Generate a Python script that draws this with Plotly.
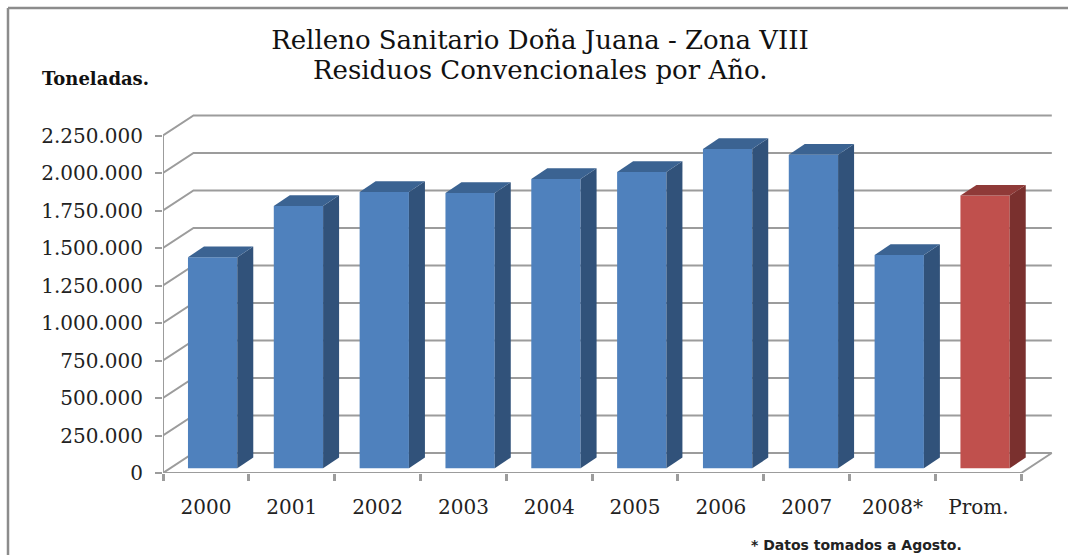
import plotly.graph_objects as go

categories = ["2000", "2001", "2002", "2003", "2004", "2005", "2006", "2007", "2008*", "Prom."]
values = [1407000, 1749000, 1842000, 1835000, 1929000, 1975000, 2129000, 2090000, 1422000, 1818000]
y_ticks = [0, 250000, 500000, 750000, 1000000, 1250000, 1500000, 1750000, 2000000, 2250000]
bar_colors = ["#4F81BD"] * 9 + ["#C0504D"]
side_colors = ["#31527A"] * 9 + ["#7A302E"]
top_colors = ["#3B6392"] * 9 + ["#8F3A38"]

W, H = 1068, 555
PX_L, PX_R, PX_T, PX_B = 163, 1053, 112, 473
PX_PER_CAT = 85.83
PX_PER_VAL = 37.5 / 250000
X_RANGE = [-0.5, -0.5 + (PX_R - PX_L) / PX_PER_CAT]
Y_RANGE = [0, (PX_B - PX_T) / PX_PER_VAL]
dx_px = lambda p: p / PX_PER_CAT
dy_px = lambda p: p / PX_PER_VAL

WALL_DX, WALL_DY = dx_px(30.5), dy_px(20)
BAR_W = dx_px(49.3)
BAR_X = dx_px(6.7)
BAR_Y = dy_px(4.7)
D_X, D_Y = dx_px(16), dy_px(10.7)
GRID = "#9C9C9C"
xs = list(range(len(categories)))
left_edge = -0.5
right_edge = len(categories) - 0.5

fig = go.Figure()

def line(x, y):
    fig.add_trace(go.Scatter(x=x, y=y, mode="lines", line=dict(color=GRID, width=2),
                             hoverinfo="skip", showlegend=False))

# walls of the 3D box, on the main subplot
for v in y_ticks:
    line([left_edge, left_edge + WALL_DX, right_edge + WALL_DX],
         [v, v + WALL_DY, v + WALL_DY])
line([left_edge, left_edge], [0, y_ticks[-1]])
line([left_edge, right_edge, right_edge + WALL_DX], [0, 0, WALL_DY])

# front faces
fig.add_trace(go.Bar(x=[i + BAR_X for i in xs], y=values, base=BAR_Y, width=BAR_W,
                     marker=dict(color=bar_colors, line=dict(width=0)),
                     xaxis="x2", yaxis="y2", showlegend=False))

# side and top faces
for i, v in zip(xs, values):
    xl = i + BAR_X - BAR_W / 2
    xr = i + BAR_X + BAR_W / 2
    yb = BAR_Y
    yt = BAR_Y + v
    fig.add_trace(go.Scatter(x=[xr, xr + D_X, xr + D_X, xr, xr],
                             y=[yb, yb + D_Y, yt + D_Y, yt, yb],
                             mode="lines", fill="toself", fillcolor=side_colors[i],
                             line=dict(width=0), xaxis="x2", yaxis="y2",
                             hoverinfo="skip", showlegend=False))
    fig.add_trace(go.Scatter(x=[xl, xr, xr + D_X, xl + D_X, xl],
                             y=[yt, yt, yt + D_Y, yt + D_Y, yt],
                             mode="lines", fill="toself", fillcolor=top_colors[i],
                             line=dict(width=0), xaxis="x2", yaxis="y2",
                             hoverinfo="skip", showlegend=False))

TICK_FONT = dict(family="DejaVu Serif", size=20, color="#222222")
TITLE_FONT = dict(family="DejaVu Serif", size=26, color="#111111")
fig.update_layout(
    width=W, height=H,
    autosize=False,
    margin=dict(l=0, r=0, t=0, b=0, autoexpand=False),
    paper_bgcolor="white", plot_bgcolor="white",
    separators=",.",
    showlegend=False,
    title=dict(text="Relleno Sanitario Doña Juana - Zona VIII",
               x=540 / W, xanchor="center", y=1 - 40 / H, yanchor="middle",
               font=TITLE_FONT),
    xaxis=dict(domain=[PX_L / W, PX_R / W], range=X_RANGE, tickmode="array",
               tickvals=xs, ticktext=categories, ticks="", showgrid=False, zeroline=False,
               tickfont=TICK_FONT, anchor="y", ticklabelstandoff=20,
               minor=dict(tickmode="array", tickvals=[x - 0.5 for x in xs] + [right_edge],
                          ticks="outside", ticklen=7, tickwidth=2.5, tickcolor=GRID, showgrid=False)),
    yaxis=dict(domain=[1 - PX_B / H, 1 - PX_T / H], range=Y_RANGE, tickmode="array",
               tickvals=y_ticks, tickformat=",d", ticks="outside", ticklen=7, tickwidth=2,
               tickcolor=GRID, showgrid=False, zeroline=False, tickfont=TICK_FONT, anchor="x",
               ticklabelstandoff=8),
    xaxis2=dict(domain=[PX_L / W, PX_R / W], range=X_RANGE, overlaying="x", visible=False, anchor="y2"),
    yaxis2=dict(domain=[1 - PX_B / H, 1 - PX_T / H], range=Y_RANGE, overlaying="y", visible=False, anchor="x2"),
    annotations=[
        dict(text="Residuos Convencionales por Año.", xref="paper", yref="paper", x=540 / W, y=1 - 70 / H,
             xanchor="center", yanchor="middle", showarrow=False, font=TITLE_FONT),
        dict(text="<b>Toneladas.</b>", xref="paper", yref="paper", x=40 / W, y=1 - 78 / H,
             xanchor="left", yanchor="middle", showarrow=False,
             font=dict(family="DejaVu Serif", size=18, color="#111111")),
        dict(text="<b>* Datos tomados a Agosto.</b>", xref="paper", yref="paper", x=749 / W, y=1 - 545 / H,
             xanchor="left", yanchor="middle", showarrow=False,
             font=dict(family="DejaVu Sans", size=14, color="#222222")),
    ],
    shapes=[
        dict(type="line", xref="paper", yref="paper", x0=8 / W, x1=1, y0=1 - 8 / H, y1=1 - 8 / H,
             line=dict(color="#8C8C8C", width=2.5), layer="below"),
        dict(type="line", xref="paper", yref="paper", x0=8 / W, x1=8 / W, y0=0, y1=1 - 8 / H,
             line=dict(color="#8C8C8C", width=2.5), layer="below"),
    ],
)

fig.write_html("out.html", config=dict(displayModeBar=False), post_script="document.body.style.margin='0';")
